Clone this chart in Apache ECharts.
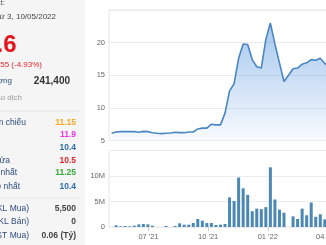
<!DOCTYPE html>
<html>
<head>
<meta charset="utf-8">
<style>
html,body{margin:0;padding:0;width:326px;height:245px;overflow:hidden;background:#fff;}
#c{width:380px;height:245px;}
</style>
<script src="https://cdn.jsdelivr.net/npm/echarts@6/dist/echarts.min.js"></script>
</head>
<body>
<div id="c"></div>
<script>
// ---- data ----
const dates = ['2021-05-05','2021-05-12','2021-05-19','2021-05-26','2021-06-02','2021-06-09','2021-06-16','2021-06-23','2021-06-30',
'2021-07-07','2021-07-14','2021-07-21','2021-07-28','2021-08-04','2021-08-11','2021-08-18','2021-08-25',
'2021-09-01','2021-09-08','2021-09-15','2021-09-22','2021-09-29','2021-10-06','2021-10-13','2021-10-20','2021-10-27',
'2021-11-03','2021-11-10','2021-11-17','2021-11-24','2021-12-01','2021-12-08','2021-12-15','2021-12-22','2021-12-29',
'2022-01-05','2022-01-12','2022-01-19','2022-01-26','2022-02-02','2022-02-09','2022-02-16','2022-02-23',
'2022-03-02','2022-03-09','2022-03-16','2022-03-23','2022-03-30','2022-04-06'];
const priceValues = [6.1,6.3,6.36,6.36,6.36,6.36,6.26,6.4,6.36,6.2,6.1,6.05,6.1,6.15,6.26,6.2,6.2,6.3,6.3,6.77,6.9,6.9,
7.5,7.4,7.4,9.2,12.6,13.7,17.6,19.8,19.7,17.4,16.3,16.1,20.5,23.0,19.8,16.9,14.05,15.0,16.0,16.1,16.7,16.9,17.4,17.3,17.6,16.8,16.3];
// volume in millions of shares, weeks dates[1] .. dates[47]
const volumeValues = [0.33,0.13,0.2,0.13,0.26,0.52,0.59,0.52,0.26,0,0,0.2,0,0.2,0.72,0.46,0.46,0.78,1.57,1.24,0.78,0.78,0.39,0.46,0.59,
5.8,5.1,9.7,7.6,6.3,3.1,3.6,3.5,3.9,11.7,5.4,3.4,2.8,0,2.1,1.57,3.6,2.3,4.8,2.0,2.5,1.5];
const xTickDates = ['2021-07-01','2021-10-01','2022-01-01','2022-04-01'];
const priceTicks = {min:5, max:25, interval:5};
const volumeTicks = {min:0, max:15, interval:5};
const xRange = ['2021-05-01','2022-05-31'];

// left info panel texts
const headerTexts = ['Cập nhật:', 'Thứ 3, 10/05/2022'];
const lastPrice = '10.6';
const change = '-0.55 (-4.93%)';
const volumeLabel = 'Khối lượng', volumeText = '241,400';
const valueLabel = 'Giá trị giao dịch';
const rowLabels = ['Tham chiếu','','','Mở cửa','Cao nhất','Thấp nhất'];
const rowValues = ['11.15','11.9','10.4','10.5','11.25','10.4'];
const rowColors = ['#f5a623','#e838e8','#2a6fae','#e0282e','#35a83a','#2a6fae'];
const tradeLabels = ['NN Mua (KL Mua)','NN Bán (KL Bán)','NN Mua (GT Mua)'];
const tradeValues = ['5,500','0','0.06 (Tỷ)'];

// ---- build ----
function t(s){const p=s.split('-');return new Date(+p[0],+p[1]-1,+p[2]).getTime();}
const FONT = 'Liberation Sans, Arial, sans-serif';
const priceData = priceValues.map((v,i)=>[t(dates[i]),v]);
const volData = volumeValues.map((v,i)=>[t(dates[i+1]),v]);
const tickVals = xTickDates.map(t);
function pad(n){return (n<10?'0':'')+n;}

const g = [];
g.push({type:'rect',shape:{x:0,y:0,width:85,height:245},style:{fill:'#f5f5f5'},z:0,silent:true});
function txt(text,x,y,font,fill,align){g.push({type:'text',x:x,y:y,z:10,silent:true,style:{text:text,font:font,fill:fill,align:align||'right',verticalAlign:'middle'}});}
const LBL = '#2f4d7c';
txt(headerTexts[0],5,3,'8px '+FONT,'#555');
txt(headerTexts[1],56,17,'8px '+FONT,'#444');
txt(lastPrice,16.5,45,'bold 24px '+FONT,'#e3141e');
txt(change,42,65,'8px '+FONT,'#e3242c');
txt(volumeLabel,12,81,'8px '+FONT,LBL);
txt(volumeText,70,81,'bold 10px '+FONT,'#333');
txt(valueLabel,22,98,'8px '+FONT,'#999');
g.push({type:'rect',shape:{x:0,y:110.5,width:80,height:1},style:{fill:'#e6e6e6'},z:5,silent:true});
const rowY=[123,134.5,148,160.5,173,187];
const rowLabelRight=[26,0,0,10,17,20];
rowY.forEach((y,i)=>{ if(rowLabels[i]) txt(rowLabels[i],rowLabelRight[i],y,'8.5px '+FONT,LBL); txt(rowValues[i],76,y,'bold 8.5px '+FONT,rowColors[i]); });
g.push({type:'rect',shape:{x:0,y:197.5,width:80,height:1},style:{fill:'#e6e6e6'},z:5,silent:true});
const tradeY=[209,222,236];
tradeY.forEach((y,i)=>{ txt(tradeLabels[i],29,y,'8.5px '+FONT,LBL); txt(tradeValues[i],76,y,'bold 8.5px '+FONT,'#444'); });

const chart = echarts.init(document.getElementById('c'),null,{renderer:'canvas'});
const axisLabelBase = {color:'#666',fontSize:7.5,fontFamily:FONT,margin:4};
chart.setOption({
  animation:false,
  graphic:g,
  grid:[
    {left:109,top:10,width:256,height:130.5,show:true,borderColor:'#e6e6e6',borderWidth:1},
    {left:109,top:150.5,width:256,height:76.5,show:true,borderColor:'#e6e6e6',borderWidth:1}
  ],
  xAxis:[
    {type:'value',gridIndex:0,min:t(xRange[0]),max:t(xRange[1]),axisLine:{show:false},axisTick:{show:false},axisLabel:{show:false},splitLine:{show:false}},
    {type:'value',gridIndex:1,min:t(xRange[0]),max:t(xRange[1]),axisLine:{show:false},
      axisTick:{show:true,customValues:tickVals,length:4,lineStyle:{color:'#ccc'}},
      axisLabel:Object.assign({},axisLabelBase,{margin:6,customValues:tickVals,showMinLabel:true,showMaxLabel:true,formatter:function(v){const d=new Date(v);return pad(d.getMonth()+1)+" '"+String(d.getFullYear()).slice(2);}}),
      splitLine:{show:false}}
  ],
  yAxis:[
    {type:'value',gridIndex:0,min:priceTicks.min,max:priceTicks.max,interval:priceTicks.interval,
      axisLine:{show:false},axisTick:{show:false},
      axisLabel:Object.assign({},axisLabelBase,{showMaxLabel:false,padding:[0,0,5,0]}),
      splitLine:{lineStyle:{color:'#ececec'}}},
    {type:'value',gridIndex:1,min:volumeTicks.min,max:volumeTicks.max,interval:volumeTicks.interval,
      axisLine:{show:false},axisTick:{show:false},
      axisLabel:Object.assign({},axisLabelBase,{showMaxLabel:false,padding:[0,0,5,0],formatter:function(v){return v===0?'0':v+'M';}}),
      splitLine:{lineStyle:{color:'#ececec'}}}
  ],
  series:[
    {type:'line',xAxisIndex:0,yAxisIndex:0,data:priceData,symbol:'none',smooth:false,
      lineStyle:{color:'#4a86c2',width:1.6},
      areaStyle:{color:new echarts.graphic.LinearGradient(0,0,0,1,[{offset:0,color:'rgba(56,132,218,0.65)'},{offset:1,color:'rgba(56,132,218,0.05)'}])}},
    {type:'bar',xAxisIndex:1,yAxisIndex:1,data:volData,barWidth:3,itemStyle:{color:'#4c88b4'}}
  ]
});
</script>
</body>
</html>
